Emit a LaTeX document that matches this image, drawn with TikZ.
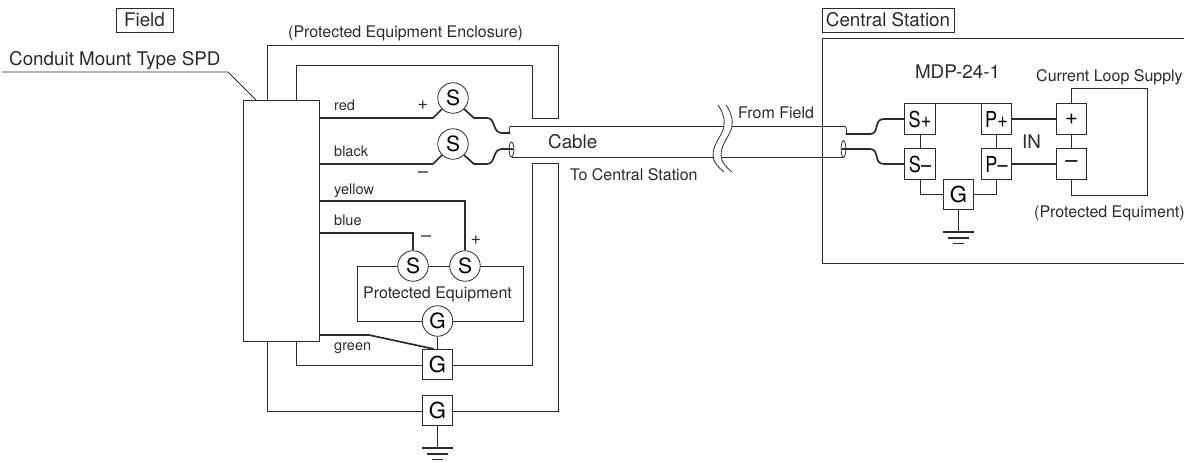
\documentclass[tikz,border=0pt]{standalone}
\usepackage{fontspec}
\setmainfont{TeX Gyre Heros}
\definecolor{ink}{HTML}{2B2B2B}
\newcommand{\sz}[1]{\fontsize{#1}{#1}\selectfont}
\newcommand{\narrowlab}[1]{\scalebox{.82}[1]{\sz{22}#1}}
\tikzset{
  thin line/.style={draw=ink,line width=0.8pt},
  wire/.style={draw=ink,line width=1.7pt,line join=round},
  body/.style={thin line,fill=white,inner sep=0pt},
  termbox/.style={body,rectangle,minimum width=30.5pt,minimum height=30.5pt,font=\sz{22}},
  termcirc/.style={body,circle,minimum size=30.5pt,font=\sz{21}},
  txt/.style={inner sep=0pt,text=ink,font=\sz{16},anchor=base west},
  wtxt/.style={txt,font=\sz{14.5}},
  bigtxt/.style={txt,font=\sz{18.8}},
  titlebox/.style={thin line,inner sep=0pt,text=ink,font=\sz{18.8}},
}
\begin{document}
\begin{tikzpicture}[x=1pt,y=-1pt]
\useasboundingbox (0,0) rectangle (1184,461);
% ---- enclosures
\draw[thin line] (267,100) -- (267,45) -- (558,45) -- (558,118) -- (532,118) -- (532,65) -- (296,65) -- (296,100);
\draw[thin line] (267,341) -- (267,411) -- (558,411) -- (558,163) -- (532,163) -- (532,365) -- (296,365) -- (296,341);
\node[body,rectangle,minimum width=76pt,minimum height=241pt] (spd) at (281,220.5) {};
\node[body,rectangle,minimum width=166pt,minimum height=55pt] (equip) at (440,293.5) {};
% ---- labels, field
\node[titlebox,rectangle,minimum width=57pt,minimum height=24pt] (field) at (144.5,20) {Field};
\node[bigtxt] (spdlabel) at (9,65) {Conduit Mount Type SPD};
\coordinate (lead0) at (2,72);
\coordinate (lead1) at (228,72);
\coordinate (lead2) at (256,100);
\draw[thin line] (lead0) -- (lead1) -- (lead2);
\node[txt] (enclabel) at (288,37) {(Protected Equipment Enclosure)};
\node[wtxt] (lred) at (334,110) {red};
\node[wtxt] (lblack) at (334,156) {black};
\node[wtxt] (lyellow) at (334,194) {yellow};
\node[wtxt] (lblue) at (334,225) {blue};
\node[wtxt] (lgreen) at (334,350) {green};
\node[txt,anchor=center,font=\sz{18}] (plus1) at (423,105) {+};
\node[txt,anchor=center,font=\sz{18}] (minus1) at (423,175) {–};
\node[txt,anchor=center,font=\sz{18}] (minus2) at (426,239) {–};
\node[txt,anchor=center,font=\sz{18}] (plus2) at (476,240) {+};
\node[txt,anchor=center] (eqlabel) at (437.5,294) {Protected Equipment};
% ---- terminals, field
\node[termcirc] (s1) at (453,98) {S};
\node[termcirc] (s2) at (453,144) {S};
\node[termcirc] (s3) at (413,266) {S};
\node[termcirc] (s4) at (465,266) {S};
\node[termcirc] (g1) at (437.5,321) {G};
\node[termbox] (g2) at (437.5,364.5) {G};
\node[termbox] (g3) at (437.5,410.5) {G};
% ---- field wires
\coordinate (redL) at (319,118);
\coordinate (blackL) at (319,164);
\coordinate (yellowL) at (319,201);
\coordinate (blueL) at (319,233);
\coordinate (greenL) at (319,335);
\draw[wire] (redL) -- (433,118) -- (442,109);
\draw[wire] (464,109) -- (474,118) -- (487,118) .. controls (496,118) and (492,133) .. (502,133) -- (510,133);
\draw[wire] (blackL) -- (433,164) -- (442,155);
\draw[wire] (464,155) -- (474,164) -- (487,164) .. controls (496,164) and (492,149) .. (502,149) -- (513,149);
\draw[wire,line join=miter] (yellowL) -| (s4.north);
\draw[wire,line join=miter] (blueL) -| (s3.north);
\draw[wire] (greenL) -- (369,335) -- (434,349);
\draw[wire] (g1.south) -- (g2.north);
% ---- cable
\draw[thin line] (510,126) -- (724,126);
\draw[thin line] (732,126) -- (845,126);
\draw[thin line] (512,157) -- (713,157);
\draw[thin line] (721,157) -- (843,157);
\draw[thin line] (510.5,126) .. controls (508.5,127.5) and (508.5,131) .. (510,133);
\draw[thin line] (511.5,149.5) ellipse (2.4pt and 7.5pt);
\draw[thin line] (718,105) .. controls (723,112) and (725,120) .. (724,126) .. controls (723,135) and (713,143) .. (713,155) .. controls (713,162) and (718,167) .. (724,172);
\draw[thin line] (726,105) .. controls (731,112) and (733,120) .. (732,126) .. controls (731,135) and (721,143) .. (721,155) .. controls (721,162) and (726,167) .. (732,172);
\node[bigtxt] (cablelabel) at (548,148) {Cable};
\node[txt] (tocs) at (570,180) {To Central Station};
\node[txt] (fromf) at (738,118) {From Field};
% ---- central station
\coordinate (csTR) at (1184,38);
\coordinate (csBR) at (1184,263);
\draw[thin line] (csTR) -- (822,38) -- (822,263) -- (csBR);
\node[titlebox,rectangle,minimum width=132pt,minimum height=24pt] (cstitle) at (888,20) {Central Station};
\node[bigtxt,anchor=base] (mdp) at (957.5,78) {MDP-24-1};
\node[txt] (cls) at (1036,81) {Current Loop Supply};
\node[txt] (pe) at (1034,217) {(Protected Equiment)};
\node[bigtxt] (inlabel) at (1022,148) {IN};
\node[termbox] (sp) at (920,119) {\narrowlab{S+}};
\node[termbox] (sm) at (920,164) {\narrowlab{S–}};
\node[termbox] (pp) at (996.5,119) {\narrowlab{P+}};
\node[termbox] (pm) at (996.5,164) {\narrowlab{P–}};
\node[termbox] (gc) at (958.5,194.5) {G};
\node[termbox] (lp) at (1071.5,119) {+};
\node[termbox] (lm) at (1071.5,164) {–};
\coordinate (st) at (1147.5,88);
\coordinate (sb) at (1147.5,195);
\draw[thin line] (sp.north) |- (pp.north);
\draw[thin line] (sp.south) -- (sm.north);
\draw[thin line] (pp.south) -- (pm.north);
\draw[thin line] (sm.south) |- (gc.west);
\draw[thin line] (pm.south) |- (gc.east);
\draw[thin line] (lp.south) -- (lm.north);
\draw[thin line] (lp.north) |- (st) -- (sb) -| (lm.south);
\draw[wire] (pp.east) -- (lp.west);
\draw[wire,line width=1.2pt] (pm.east) -- (lm.west);
\draw[wire] (846,134) -- (870,134) .. controls (880,134) and (873,119) .. (884,119) -- (sp.west);
\draw[wire] (842,149) -- (870,149) .. controls (880,149) and (873,164) .. (884,164) -- (sm.west);
\draw[thin line] (844,126) .. controls (847,127) and (847,131) .. (846,134);
\draw[thin line] (843.5,149) ellipse (2.4pt and 8.3pt);
% ---- grounds
\coordinate (e1) at (958.5,232);
\draw[wire,line width=1.2pt] (gc.south) -- (e1);
\draw[wire,line width=1.2pt] (943,232) -- (974,232);
\draw[wire,line width=1.2pt] (948,238) -- (969,238);
\draw[wire,line width=1.2pt] (953,243.5) -- (964,243.5);
\coordinate (e2) at (437.5,448);
\draw[wire,line width=1.2pt] (g3.south) -- (e2);
\draw[wire,line width=1.2pt] (422,448) -- (453,448);
\draw[wire,line width=1.2pt] (427,454) -- (448,454);
\draw[wire,line width=1.2pt] (432,459.5) -- (443,459.5);
\end{tikzpicture}
\end{document}
